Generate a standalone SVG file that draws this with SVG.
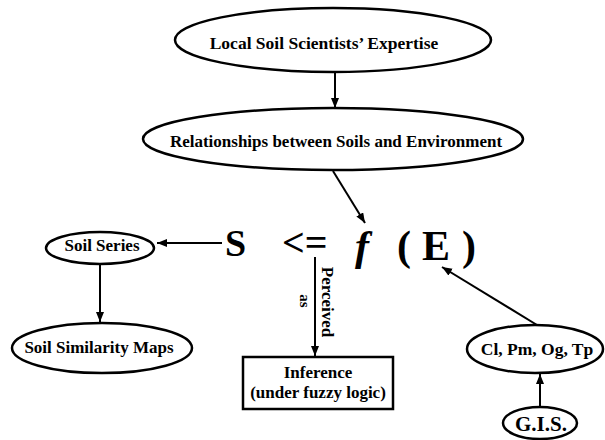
<svg xmlns="http://www.w3.org/2000/svg" width="605" height="440" viewBox="0 0 605 440">
<defs>
<marker id="ah" markerUnits="userSpaceOnUse" markerWidth="12" markerHeight="10" refX="10" refY="4" orient="auto">
<path d="M0,0 L10,4 L0,8 Z" fill="#000"/>
</marker>
</defs>
<style>
.n{fill:#fff;stroke:#000;stroke-width:2.5}
.t{font-family:"Liberation Serif","Times New Roman",serif;font-weight:bold;font-size:17px;fill:#000;text-anchor:middle}
.c{stroke:#000;stroke-width:2;fill:none;marker-end:url(#ah)}
.big{font-family:"Liberation Serif","Times New Roman",serif;font-weight:bold;fill:#000}
</style>
<rect width="605" height="440" fill="#fff"/>
<g id="connectors">
<line class="c" x1="335" y1="72" x2="335" y2="108"/>
<line class="c" x1="333" y1="171" x2="365" y2="223"/>
<line class="c" x1="222" y1="243" x2="157" y2="243"/>
<line class="c" x1="100" y1="265" x2="100" y2="322"/>
<line class="c" x1="315" y1="257" x2="315" y2="356"/>
<line class="c" x1="537" y1="325" x2="442" y2="267"/>
<line class="c" x1="540" y1="407" x2="540" y2="374"/>
</g>
<g id="expertise">
<ellipse class="n" cx="333" cy="40" rx="158" ry="32"/>
<text class="t" x="324" y="49" style="font-size:17.5px">Local Soil Scientists’ Expertise</text>
</g>
<g id="relationships">
<ellipse class="n" cx="333" cy="139" rx="190" ry="31"/>
<text class="t" x="336" y="147">Relationships between Soils and Environment</text>
</g>
<g id="equation">
<text class="big" x="225" y="256" font-size="38">S</text>
<text class="big" x="282" y="256" font-size="40">&lt;=</text>
<text class="big" x="355" y="260" font-size="42" font-style="italic">f</text>
<text class="big" x="397" y="260" font-size="42">(</text>
<text class="big" x="422" y="260" font-size="42">E</text>
<text class="big" x="462" y="260" font-size="42">)</text>
</g>
<g id="perceived">
<text class="t" transform="translate(322,302) rotate(90)">Perceived</text>
<text class="t" transform="translate(300,301) rotate(90)" style="font-size:15px">as</text>
</g>
<g id="soil-series">
<ellipse class="n" cx="100" cy="248" rx="54" ry="16"/>
<text class="t" x="102" y="251">Soil Series</text>
</g>
<g id="soil-similarity">
<ellipse class="n" cx="102" cy="348" rx="90" ry="25"/>
<text class="t" x="99" y="353">Soil Similarity Maps</text>
</g>
<g id="inference">
<rect class="n" x="243" y="357" width="150" height="52"/>
<text class="t" x="318" y="378">Inference</text>
<text class="t" x="318" y="398">(under fuzzy logic)</text>
</g>
<g id="factors">
<ellipse class="n" cx="535" cy="349" rx="68" ry="24"/>
<text class="t" x="537" y="355" style="font-size:17.5px">Cl, Pm, Og, Tp</text>
</g>
<g id="gis">
<ellipse class="n" cx="540" cy="423" rx="37" ry="16"/>
<text class="t" x="541" y="431" style="font-size:21px">G.I.S.</text>
</g>
</svg>
